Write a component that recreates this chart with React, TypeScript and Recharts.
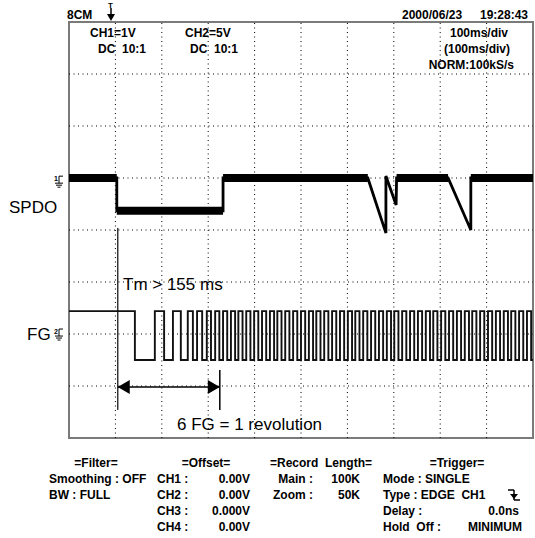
import React from 'react';
import { LineChart, Line, XAxis, YAxis, ReferenceLine, ReferenceArea, ReferenceDot } from 'recharts';

// time axis: 0..1000 ms (100 ms/div), vertical: 0..8 divisions
const SPDO_T = [0, 103, 103, 332, 332, 644, 683, 683, 705, 706, 817, 866, 866, 1000];
const SPDO_V = [5.0, 5.0, 4.37, 4.37, 5.0, 5.0, 3.94, 5.04, 4.48, 5.0, 5.0, 4.0, 5.0, 5.0];

const FG_HIGH = 2.44;
const FG_LOW = 1.5;
const FG_FALL_MS = [142, 205, 241, 267, 287, 306, 324, 341, 358, 374, 391, 408, 425, 442, 458, 475, 492, 509, 526, 542, 559, 576, 593, 610, 626, 643, 660, 677, 694, 710, 727, 744, 761, 778, 794, 811, 828, 845, 862, 878, 895, 912, 929, 946, 962, 979, 996];
const FG_RISE_MS = [185, 224, 256, 276, 297, 315, 332, 349, 365, 382, 399, 416, 433, 449, 466, 483, 500, 517, 533, 550, 567, 584, 601, 617, 634, 651, 668, 685, 701, 718, 735, 752, 769, 785, 802, 819, 836, 853, 869, 886, 903, 920, 937, 953, 970, 987];

const GRID_X = [100, 200, 300, 400, 500, 600, 700, 800, 900];
const GRID_Y = [1, 2, 3, 4, 5, 6, 7];

const CURSOR_MS = 105;
const CURSOR_TOP = 4.04;
const CURSOR_BOTTOM = 0.54;
const MARK_END_MS = 325;
const MARK_END_TOP = 1.31;
const ARROW_V = 0.98;
const CH1_GND = 4.92;
const CH2_GND = 1.98;

const spdoData = SPDO_T.map((t, i) => ({ t, v: SPDO_V[i] }));

const spdoBand: { t: number; v: number | null }[] = [];
for (let i = 0; i < SPDO_T.length - 1; i++) {
  if (SPDO_V[i] === SPDO_V[i + 1] && SPDO_T[i] !== SPDO_T[i + 1]) {
    spdoBand.push({ t: SPDO_T[i], v: SPDO_V[i] });
    spdoBand.push({ t: SPDO_T[i + 1], v: SPDO_V[i + 1] });
    spdoBand.push({ t: SPDO_T[i + 1], v: null });
  }
}

function buildFG() {
  const edges = [
    ...FG_FALL_MS.map((t) => ({ t, v: FG_LOW })),
    ...FG_RISE_MS.map((t) => ({ t, v: FG_HIGH })),
  ].sort((a, b) => a.t - b.t);
  const pts = [{ t: 0, v: FG_HIGH }];
  let cur = FG_HIGH;
  for (const e of edges) {
    pts.push({ t: e.t, v: cur });
    pts.push({ t: e.t, v: e.v });
    cur = e.v;
  }
  pts.push({ t: 1000, v: cur });
  return pts;
}
const fgData = buildFG();

const Txt = ({ x, y, children, anchor = 'start', size = 12, weight = 'bold', family = '"Liberation Sans", Arial, sans-serif', spacing = 0 }: any) => {
  const tx = anchor === 'end' ? '-100%' : anchor === 'middle' ? '-50%' : '0';
  return (
    <div
      style={{
        position: 'absolute',
        left: x,
        top: y,
        transform: `translate(${tx}, -50%)`,
        fontSize: size,
        fontWeight: weight,
        fontFamily: family,
        lineHeight: 1,
        whiteSpace: 'pre',
        color: '#000',
        letterSpacing: spacing,
      }}
    >
      {children}
    </div>
  );
};

const groundShape = (num: string) => (props: any) => {
  const { cx, cy } = props;
  const x0 = cx - 10;
  return (
    <g stroke="#000" strokeWidth={1} fill="none">
      <text x={x0 - 5} y={cy - 1} fontSize={7} fontWeight="bold" fill="#000" stroke="none" fontFamily="Liberation Sans, Arial">{num}</text>
      <line x1={x0} y1={cy - 6} x2={x0} y2={cy + 1} />
      <line x1={x0} y1={cy - 6} x2={x0 + 4} y2={cy - 6} />
      <line x1={x0 - 4} y1={cy + 1} x2={x0 + 4} y2={cy + 1} />
      <line x1={x0 - 3} y1={cy + 3} x2={x0 + 3} y2={cy + 3} />
      <line x1={x0 - 1.5} y1={cy + 5} x2={x0 + 1.5} y2={cy + 5} />
    </g>
  );
};

const arrowLeft = (props: any) => {
  const { cx, cy } = props;
  return <polygon points={`${cx},${cy} ${cx + 12},${cy - 7} ${cx + 12},${cy + 7}`} fill="#000" />;
};
const arrowRight = (props: any) => {
  const { cx, cy } = props;
  return <polygon points={`${cx},${cy} ${cx - 12},${cy - 7} ${cx - 12},${cy + 7}`} fill="#000" />;
};

export default function App() {
  return (
    <div style={{ position: 'absolute', left: 0, top: 0, width: 535, height: 538, background: '#fff', overflow: 'hidden' }}>
      <LineChart width={535} height={538} data={fgData} margin={{ top: 22, right: 2, bottom: 100, left: 69 }}>
        <XAxis type="number" dataKey="t" domain={[0, 1000]} hide allowDataOverflow />
        <YAxis type="number" domain={[0, 8]} hide allowDataOverflow />
        {GRID_X.map((x) => (
          <ReferenceLine key={'gx' + x} x={x} stroke="#000" strokeWidth={1} strokeDasharray="1 3.5" />
        ))}
        {GRID_Y.map((y) => (
          <ReferenceLine key={'gy' + y} y={y} stroke="#000" strokeWidth={1} strokeDasharray="1 3.5" />
        ))}
        <ReferenceArea x1={0} x2={1000} y1={0} y2={8} fill="none" stroke="#7a7a7a" strokeWidth={2} ifOverflow="visible" />
        <ReferenceLine segment={[{ x: CURSOR_MS, y: CURSOR_TOP }, { x: CURSOR_MS, y: CURSOR_BOTTOM }]} stroke="#333" strokeWidth={1.5} />
        <ReferenceLine segment={[{ x: MARK_END_MS, y: MARK_END_TOP }, { x: MARK_END_MS, y: CURSOR_BOTTOM }]} stroke="#000" strokeWidth={1.5} />
        <ReferenceLine segment={[{ x: CURSOR_MS, y: ARROW_V }, { x: MARK_END_MS, y: ARROW_V }]} stroke="#000" strokeWidth={1.5} />
        <ReferenceDot x={CURSOR_MS} y={ARROW_V} shape={arrowLeft} />
        <ReferenceDot x={MARK_END_MS} y={ARROW_V} shape={arrowRight} />
        <ReferenceDot x={0} y={CH1_GND} shape={groundShape('1')} ifOverflow="visible" />
        <ReferenceDot x={0} y={CH2_GND} shape={groundShape('2')} ifOverflow="visible" />
        <Line data={fgData} dataKey="v" type="linear" stroke="#111" strokeWidth={1.9} dot={false} activeDot={false} isAnimationActive={false} />
        <Line data={spdoData} dataKey="v" type="linear" stroke="#000" strokeWidth={2.8} dot={false} activeDot={false} isAnimationActive={false} />
        <Line data={spdoBand} dataKey="v" type="linear" stroke="#000" strokeWidth={8} dot={false} activeDot={false} connectNulls={false} isAnimationActive={false} />
      </LineChart>

      {/* header */}
      <Txt x={67} y={15}>8CM</Txt>
      <svg style={{ position: 'absolute', left: 104, top: 0 }} width={14} height={22}>
        <text x={4} y={8} fontSize={8} fontWeight="bold" fontFamily="Liberation Sans, Arial">T</text>
        <line x1={7} y1={8} x2={7} y2={16} stroke="#000" strokeWidth={1.5} />
        <polygon points="3,14 11,14 7,21" fill="#000" />
      </svg>
      <Txt x={402} y={15}>2000/06/23</Txt>
      <Txt x={528} y={15} anchor="end">19:28:43</Txt>

      <Txt x={90} y={33}>CH1=1V</Txt>
      <Txt x={98} y={49}>DC  10:1</Txt>
      <Txt x={185} y={33}>CH2=5V</Txt>
      <Txt x={190} y={49}>DC  10:1</Txt>
      <Txt x={508} y={33} anchor="end">100ms/div</Txt>
      <Txt x={510} y={49} anchor="end">(100ms/div)</Txt>
      <Txt x={514} y={65} anchor="end">NORM:100kS/s</Txt>

      {/* channel labels */}
      <Txt x={9} y={207} size={17} weight="normal">SPDO</Txt>
      <Txt x={27} y={334} size={17} weight="normal">FG</Txt>

      {/* annotations */}
      <Txt x={123} y={284} size={17} weight="normal">Tm &gt; 155 ms</Txt>
      <Txt x={177} y={424} size={17} weight="normal">6 FG = 1 revolution</Txt>

      {/* bottom panel */}
      <Txt x={96} y={463} anchor="middle">=Filter=</Txt>
      <Txt x={49} y={479}>Smoothing : OFF</Txt>
      <Txt x={49} y={495}>BW : FULL</Txt>

      <Txt x={206} y={463} anchor="middle">=Offset=</Txt>
      <Txt x={157} y={479}>CH1 :</Txt>
      <Txt x={250} y={479} anchor="end">0.00V</Txt>
      <Txt x={157} y={495}>CH2 :</Txt>
      <Txt x={250} y={495} anchor="end">0.00V</Txt>
      <Txt x={157} y={511}>CH3 :</Txt>
      <Txt x={250} y={511} anchor="end">0.000V</Txt>
      <Txt x={157} y={527}>CH4 :</Txt>
      <Txt x={250} y={527} anchor="end">0.00V</Txt>

      <Txt x={321} y={463} anchor="middle">=Record  Length=</Txt>
      <Txt x={313} y={479} anchor="end">Main :</Txt>
      <Txt x={360} y={479} anchor="end">100K</Txt>
      <Txt x={313} y={495} anchor="end">Zoom :</Txt>
      <Txt x={360} y={495} anchor="end">50K</Txt>

      <Txt x={457} y={463} anchor="middle">=Trigger=</Txt>
      <Txt x={383} y={479}>Mode : SINGLE</Txt>
      <Txt x={383} y={495}>Type : EDGE  CH1</Txt>
      <svg style={{ position: 'absolute', left: 507, top: 488 }} width={14} height={14}>
        <line x1={1} y1={2} x2={7} y2={2} stroke="#000" strokeWidth={1.5} />
        <line x1={7} y1={2} x2={7} y2={12} stroke="#000" strokeWidth={1.5} />
        <line x1={7} y1={12} x2={13} y2={12} stroke="#000" strokeWidth={1.5} />
        <polygon points="3,6 11,6 7,11" fill="#000" />
      </svg>
      <Txt x={383} y={511}>Delay :</Txt>
      <Txt x={519} y={511} anchor="end">0.0ns</Txt>
      <Txt x={383} y={527}>Hold  Off :</Txt>
      <Txt x={522} y={527} anchor="end">MINIMUM</Txt>
    </div>
  );
}
